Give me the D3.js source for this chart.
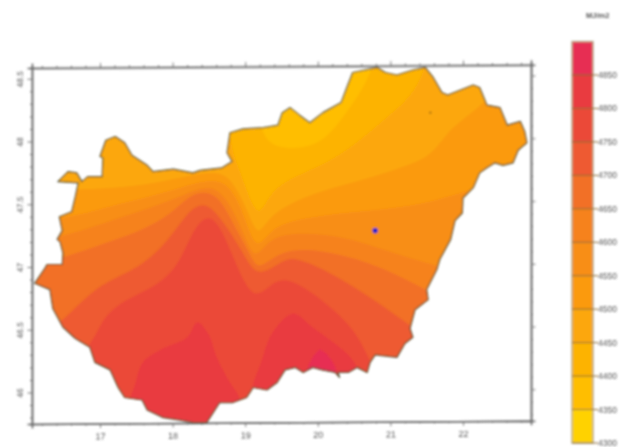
<!DOCTYPE html>
<html>
<head>
<meta charset="utf-8">
<script src="https://cdn.jsdelivr.net/npm/d3@7/dist/d3.min.js"></script>
<style>
html,body{margin:0;padding:0;background:#fff;}
svg{display:block;}
text{font-family:"Liberation Sans",Arial,sans-serif;}
</style>
</head>
<body>
<svg id="chart" width="621" height="447"></svg>
<script>
// ---- data (degrees E, degrees N; irradiation in MJ/m2) ----
const legendUnit = "MJ/m2";
const legendLevels = [4300,4350,4400,4450,4500,4550,4600,4650,4700,4750,4800,4850];
const legendColors = ["#ffd200","#ffbe00","#fdb300","#fca70a","#fb9a10","#f88e16","#f6821e","#f27028","#ee5a30","#eb4a38","#e93b40","#e72f52"];
const lonTicks = [17,18,19,20,21,22];
const latTicks = [46,46.5,47,47.5,48,48.5];
const lonMinor = [16.2,16.4,16.6,16.8,17.2,17.4,17.6,17.8,18.2,18.4,18.6,18.8,19.2,19.4,19.6,19.8,20.2,20.4,20.6,20.8,21.2,21.4,21.6,21.8,22.2,22.4,22.6,22.8];
const latMinor = [45.8,45.9,46.1,46.2,46.3,46.4,46.6,46.7,46.8,46.9,47.1,47.2,47.3,47.4,47.6,47.7,47.8,47.9,48.1,48.2,48.3,48.4];
const stations = [[20.79,47.29,"#2222cc",2.8],[21.55,48.23,"#a8701a",1.2]];

const outline = [[16.10,46.87],[16.24,46.99],[16.27,47.02],[16.48,47.02],[16.49,47.11],[16.45,47.20],[16.41,47.22],[16.48,47.29],[16.44,47.40],[16.61,47.44],[16.66,47.56],[16.70,47.67],[16.42,47.68],[16.56,47.76],[16.68,47.75],[16.75,47.68],[16.83,47.72],[17.03,47.72],[17.04,47.87],[17.00,47.88],[17.08,48.01],[17.21,48.04],[17.34,47.99],[17.44,47.89],[17.65,47.81],[17.73,47.76],[18.01,47.78],[18.28,47.75],[18.38,47.77],[18.68,47.79],[18.82,47.84],[18.75,47.91],[18.79,48.07],[18.97,48.10],[19.25,48.11],[19.45,48.13],[19.51,48.23],[19.62,48.27],[19.75,48.21],[19.89,48.15],[20.07,48.23],[20.32,48.31],[20.40,48.43],[20.48,48.55],[20.82,48.59],[20.93,48.55],[21.09,48.53],[21.31,48.57],[21.48,48.59],[21.59,48.51],[21.71,48.39],[21.79,48.37],[22.14,48.45],[22.23,48.43],[22.33,48.29],[22.51,48.27],[22.61,48.13],[22.79,48.16],[22.85,48.08],[22.88,47.99],[22.76,47.93],[22.69,47.83],[22.55,47.81],[22.44,47.83],[22.33,47.79],[22.23,47.75],[22.14,47.63],[22.00,47.55],[21.99,47.43],[21.89,47.37],[21.83,47.22],[21.68,47.06],[21.64,46.98],[21.50,46.82],[21.52,46.74],[21.34,46.66],[21.27,46.51],[21.31,46.44],[21.20,46.39],[21.09,46.28],[20.79,46.30],[20.72,46.24],[20.68,46.16],[20.54,46.20],[20.42,46.16],[20.28,46.16],[20.30,46.12],[20.24,46.16],[20.06,46.18],[19.93,46.20],[19.80,46.16],[19.69,46.20],[19.55,46.18],[19.44,46.08],[19.30,46.02],[19.11,46.04],[19.02,45.96],[18.83,45.92],[18.65,45.92],[18.47,45.76],[18.28,45.76],[18.10,45.78],[17.87,45.80],[17.65,45.86],[17.58,45.94],[17.34,45.96],[17.25,46.04],[17.14,46.18],[16.93,46.24],[16.86,46.36],[16.66,46.43],[16.49,46.52],[16.35,46.67],[16.31,46.82]];

// lines of equal irradiation, each running west to east; the area south of a line is at or above its level
const iso4400 = [[15.5,49],[18.9,49],[19.18,48.13],[19.34,47.95],[19.80,47.94],[20.13,48.02],[20.44,48.27],[20.68,48.47],[20.83,48.73],[20.9,49],[23.5,49]];
const iso4450 = [[15.5,49],[18.7,49],[18.76,48.01],[18.90,47.81],[19.02,47.61],[19.19,47.37],[19.34,47.61],[19.71,47.73],[20.13,47.83],[20.48,47.96],[20.90,48.17],[21.37,48.39],[21.55,48.73],[21.6,49],[23.5,49]];
const iso4500 = [[15.5,47.69],[16.31,47.63],[16.66,47.61],[17.41,47.64],[17.78,47.67],[18.24,47.73],[18.68,47.77],[18.86,47.65],[19.04,47.44],[19.18,47.22],[19.34,47.43],[19.93,47.59],[20.48,47.67],[21.04,47.77],[21.59,47.88],[21.78,48.09],[22.23,48.27],[22.44,48.41],[23.06,48.65],[23.5,48.65]];
const iso4550 = [[15.5,47.33],[16.59,47.39],[17.10,47.48],[17.69,47.56],[18.14,47.64],[18.58,47.71],[18.82,47.63],[19.00,47.39],[19.15,47.12],[19.34,47.29],[19.58,47.36],[20.03,47.41],[20.72,47.45],[21.41,47.49],[22.00,47.60],[23.06,47.77],[23.5,47.77]];
const iso4600 = [[15.5,47.14],[16.45,47.23],[17.10,47.36],[17.69,47.47],[18.14,47.57],[18.52,47.66],[18.75,47.55],[18.97,47.28],[19.13,47.04],[19.30,47.21],[19.62,47.28],[20.35,47.25],[20.99,47.12],[21.55,47.02],[22.10,46.94],[23.5,46.94]];
const iso4650 = [[15.5,46.94],[16.49,47.07],[16.96,47.17],[17.55,47.28],[18.01,47.43],[18.27,47.60],[18.61,47.60],[18.82,47.36],[19.07,47.10],[19.18,46.96],[19.48,47.14],[20.03,47.14],[20.72,47.04],[21.37,46.86],[22.10,46.62],[23.5,46.62]];
const iso4700 = [[15.5,46.42],[16.17,46.42],[16.61,46.64],[17.00,46.87],[17.55,46.99],[17.96,47.22],[18.24,47.47],[18.47,47.52],[18.69,47.37],[18.97,47.12],[19.16,46.90],[19.52,47.06],[19.71,47.08],[20.31,46.92],[21.23,46.56],[21.68,46.34],[23.5,46.34]];
const iso4750 = [[15.5,46.14],[16.45,46.14],[16.90,46.39],[17.00,46.55],[17.23,46.71],[17.69,46.82],[18.06,46.98],[18.24,47.25],[18.45,47.42],[18.63,47.36],[18.82,47.10],[19.07,46.76],[19.27,46.80],[19.52,46.96],[20.13,46.71],[20.48,46.52],[20.68,46.31],[20.83,46.10],[21.0,45.5]];
const core4800West = [[17.34,45.70],[17.48,46.06],[17.59,46.24],[17.83,46.34],[18.20,46.44],[18.34,46.56],[18.49,46.47],[18.61,46.28],[18.75,46.12],[18.93,45.94],[18.93,45.70]];
const core4800East = [[19.13,45.98],[19.23,46.26],[19.38,46.48],[19.66,46.63],[19.93,46.52],[20.40,46.31],[20.54,46.20],[20.65,45.98]];
const core4850 = [[19.85,46.14],[20.03,46.34],[20.26,46.16],[20.06,46.06]];

const bands = [[4400,iso4400],[4450,iso4450],[4500,iso4500],[4550,iso4550],[4600,iso4600],[4650,iso4650],[4700,iso4700],[4750,iso4750]];
const cores = [[4800,core4800West],[4800,core4800East],[4850,core4850]];
const southCorners = [[23.5,45.5],[15.5,45.5]];

// ---- scales ----
const xMap = d3.scaleLinear().domain([17,22]).range([100,463]);
const yMap = d3.scaleLinear().domain([46,48.5]).range([392.5,78.75]);
const lonDomain = [16.063,22.937], latDomain = [45.749,48.586];
const xF = d3.scaleLinear().domain(lonDomain).range([xMap(lonDomain[0]),xMap(lonDomain[1])]);
const yF = d3.scaleLinear().domain(latDomain).range([yMap(latDomain[0]),yMap(latDomain[1])]);
const yLegend = d3.scaleLinear().domain([4300,4850]).range([443,75]);
const bandColor = d3.scaleThreshold().domain(legendLevels.slice(1)).range(legendColors);

const svg = d3.select("#chart");
const defs = svg.append("defs");
defs.append("filter").attr("id","soft").attr("x","-5%").attr("y","-5%").attr("width","110%").attr("height","110%")
  .append("feGaussianBlur").attr("stdDeviation",1.05);
const root = svg.append("g").attr("filter","url(#soft)");

// ---- frame and axes (the scanned sheet is slightly sheared) ----
const shear = -0.0065;
const frame = root.append("g").attr("transform",`matrix(1,${shear},0,1,0,${-shear*xF.range()[0]})`);
function axisPair(gen, major, minor, tx, ty, labels){
  const gMin = frame.append("g").attr("transform",`translate(${tx},${ty})`)
    .call(gen.tickValues(minor).tickSize(2).tickFormat(""));
  const gMaj = frame.append("g").attr("transform",`translate(${tx},${ty})`)
    .call(gen.tickValues(major).tickSize(4.5).tickPadding(5).tickFormat(labels ? d3.format("") : ""));
  [gMin,gMaj].forEach(g=>{
    g.selectAll("path").attr("stroke","#6a6a6a").attr("stroke-width",1.6);
    g.selectAll("line").attr("stroke","#777").attr("stroke-width",1);
    g.selectAll("text").attr("fill","#555").attr("font-size",9);
  });
  return gMaj;
}
const [fx0,fx1] = xF.range(), fy0 = yF.range()[0], fy1 = yF.range()[1];
axisPair(d3.axisBottom(xF), lonTicks, lonMinor, 0, fy0, true);
axisPair(d3.axisTop(xF), lonTicks, lonMinor, 0, fy1, false);
axisPair(d3.axisRight(yF), latTicks, latMinor, fx1, 0, false);
const yAx = axisPair(d3.axisLeft(yF), latTicks, latMinor, fx0, 0, true);
yAx.selectAll("text").attr("text-anchor","middle").attr("dy",0)
  .attr("transform","translate(-12,0) rotate(-90)")
  .attr("x",0).attr("y",3).attr("font-size",8.5);

// ---- map ----
const lineLin = d3.line().x(d=>xMap(d[0])).y(d=>yMap(d[1]));
const lineSmooth = d3.line().x(d=>xMap(d[0])).y(d=>yMap(d[1])).curve(d3.curveBasis);
const lineCore = d3.line().x(d=>xMap(d[0])).y(d=>yMap(d[1])).curve(d3.curveCatmullRomClosed.alpha(0.5));
const outlinePath = lineLin(outline)+"Z";
defs.append("clipPath").attr("id","hu").append("path").attr("d",outlinePath);
const map = root.append("g");
const bandsG = map.append("g").attr("clip-path","url(#hu)");
bandsG.append("path").attr("d",outlinePath).attr("fill",bandColor(4350));
bandsG.selectAll("path.band").data(bands).join("path").attr("class","band")
  .attr("d",d=>lineSmooth(d[1])+"L"+southCorners.map(c=>[xMap(c[0]),yMap(c[1])].join(",")).join("L")+"Z")
  .attr("fill",d=>bandColor(d[0]));
bandsG.selectAll("path.core").data(cores).join("path").attr("class","core")
  .attr("d",d=>lineCore(d[1]))
  .attr("fill",d=>bandColor(d[0]));
map.append("path").attr("d",outlinePath).attr("fill","none").attr("stroke","#55553a").attr("stroke-width",1.2).attr("stroke-linejoin","round");
map.selectAll("circle").data(stations).join("circle")
  .attr("cx",d=>xMap(d[0])).attr("cy",d=>yMap(d[1])).attr("r",d=>d[3]).attr("fill",d=>d[2]);

// ---- legend ----
const legend = root.append("g");
const lx = 572, lw = 21;
const topLevel = 4900;
legend.selectAll("rect.b").data(legendLevels).join("rect").attr("class","b")
  .attr("x",lx).attr("width",lw)
  .attr("y",(d,i)=>yLegend(i+1<legendLevels.length?legendLevels[i+1]:topLevel))
  .attr("height",(d,i)=>yLegend(d)-yLegend(i+1<legendLevels.length?legendLevels[i+1]:topLevel))
  .attr("fill",d=>bandColor(d));
legend.append("rect").attr("x",lx).attr("y",yLegend(topLevel)).attr("width",lw).attr("height",yLegend(4300)-yLegend(topLevel))
  .attr("fill","none").attr("stroke","#b5a98a").attr("stroke-width",1.4);
legend.selectAll("line").data(legendLevels).join("line")
  .attr("x1",lx).attr("x2",lx+lw+5).attr("y1",d=>yLegend(d)).attr("y2",d=>yLegend(d))
  .attr("stroke","#8a6a30").attr("stroke-width",1);
legend.selectAll("text.l").data(legendLevels).join("text").attr("class","l")
  .attr("x",lx+lw+5).attr("y",d=>yLegend(d)+3).attr("font-size",8.5).attr("fill","#555").text(d=>d);
legend.append("text").attr("x",586).attr("y",18).attr("font-size",7.5).attr("font-weight","bold").attr("fill","#555").text(legendUnit);
</script>
</body>
</html>
